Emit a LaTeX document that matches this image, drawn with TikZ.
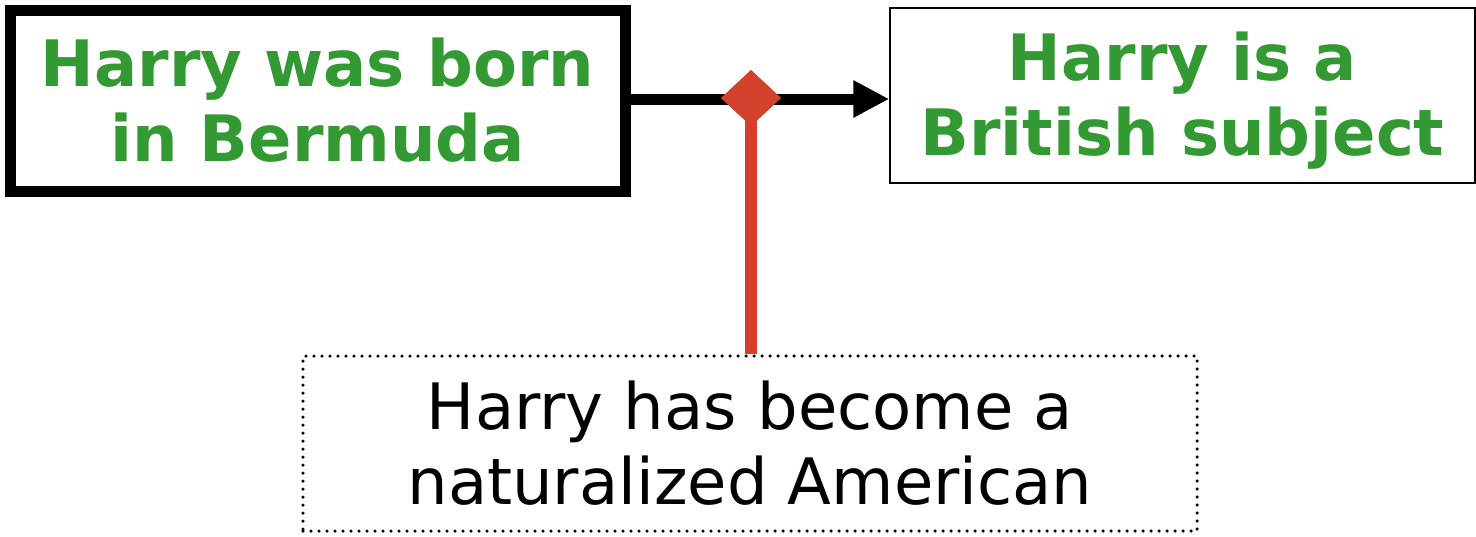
\documentclass[tikz,border=0pt]{standalone}
\usepackage{fontspec}
\setmainfont{DejaVu Sans}
\usetikzlibrary{arrows.meta,shapes.geometric}
\definecolor{argreen}{RGB}{51,153,51}
\definecolor{argred}{RGB}{210,65,43}
\tikzset{
  claimbox/.style={draw=black, align=center, inner sep=0pt},
  greentext/.style={text=argreen, font=\fontsize{64}{75}\selectfont\bfseries},
}
\begin{document}
\begin{tikzpicture}[x=1pt,y=-1pt]
\useasboundingbox (0,0) rectangle (1476,536);
\node[claimbox, greentext, line width=11pt, minimum width=615pt, minimum height=181pt] (born) at (317.5,100.5) {Harry was born\\in Bermuda};
\node[claimbox, greentext, line width=1.5pt, minimum width=585pt, minimum height=175pt] (brit) at (1182.5,95.5) {\raisebox{0pt}[\dimexpr\height+10pt\relax]{Harry is a}\\British subject};
\node[claimbox, line width=3.5pt, dash pattern=on 0pt off 8pt, line cap=round, minimum width=894pt, minimum height=175pt, font=\fontsize{64}{75}\selectfont] (nat) at (750,443.5) {Harry has become a\\naturalized American};
\draw[line width=11pt, -{Triangle[length=36pt,width=35pt]}] (born.east |- 0,99) -- (brit.west |- 0,99);
\node[shape=diamond, fill=argred, inner sep=0pt, minimum width=60pt, minimum height=56pt] (dia) at (751,98) {};
\draw[argred, line width=12pt] (dia.center) -- (nat.north -| dia.center);
\node[shape=diamond, fill=argred, inner sep=0pt, minimum width=60pt, minimum height=56pt] at (dia) {};
\end{tikzpicture}
\end{document}
